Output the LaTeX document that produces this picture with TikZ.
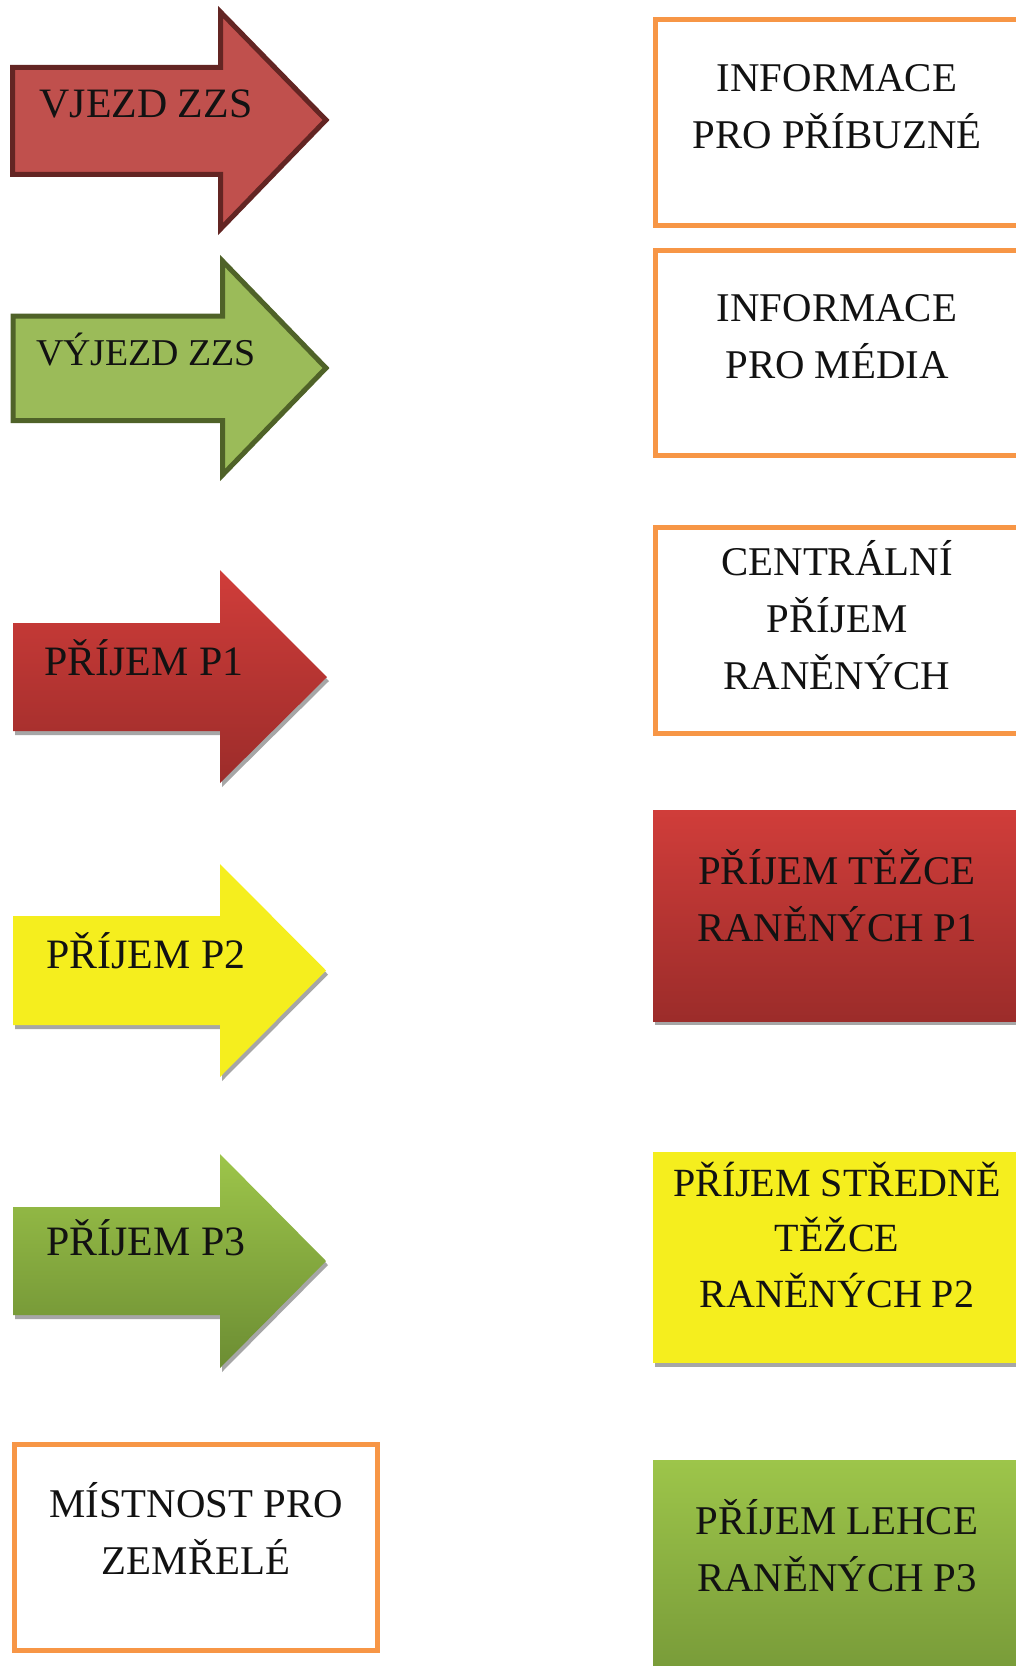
\documentclass[tikz,border=0pt]{standalone}
\usepackage{fontspec}
\setmainfont{Liberation Serif}
\definecolor{boxorange}{HTML}{F79646}
\definecolor{aonefill}{HTML}{C0504D}
\definecolor{aoneline}{HTML}{632523}
\definecolor{atwofill}{HTML}{9BBB59}
\definecolor{atwoline}{HTML}{4F6228}
\definecolor{redtop}{HTML}{D03D3A}
\definecolor{redbot}{HTML}{9C2C2A}
\definecolor{yel}{HTML}{F5EE1E}
\definecolor{gtop}{HTML}{9DC54A}
\definecolor{gbot}{HTML}{6C8D33}
\definecolor{shgray}{HTML}{A6A6A6}
\begin{document}
\begin{tikzpicture}[x=0.75pt,y=-0.75pt,
  lbl/.style={font=\fontsize{30.6}{42.75}\selectfont, align=center, anchor=base, inner sep=0pt, text=black!93},
  obox/.style={draw=boxorange, line width=3.75pt, fill=white},
  shd/.style={fill=shgray, shift={(2,4)}},
  outl/.style={line width=3.75pt, line join=miter}]
\clip (0,0) rectangle (1016,1666);
\fill[white] (0,0) rectangle (1016,1666);

% arrow 1
\draw[outl, draw=aoneline, fill=aonefill] (12.5,67.5) -- (220.5,67.5) -- (220.5,12) -- (326,120) -- (220.5,229) -- (220.5,174.5) -- (12.5,174.5) -- cycle;
\node[lbl, font=\fontsize{31.4}{42.75}\selectfont] (a1) at (146,118) {VJEZD ZZS};

% arrow 2
\draw[outl, draw=atwoline, fill=atwofill] (13,316) -- (222.5,316) -- (222.5,261) -- (326,368) -- (222.5,475) -- (222.5,420.5) -- (13,420.5) -- cycle;
\node[lbl, font=\fontsize{28.4}{42.75}\selectfont] (a2) at (146,365) {VÝJEZD ZZS};

% arrow 3
\fill[shd] (13,623) -- (220,623) -- (220,570) -- (327,677) -- (220,783) -- (220,731) -- (13,731) -- cycle;
\shade[top color=redtop, bottom color=redbot] (13,623) -- (220,623) -- (220,570) -- (327,677) -- (220,783) -- (220,731) -- (13,731) -- cycle;
\node[lbl, font=\fontsize{31.4}{42.75}\selectfont] (a3) at (144,675) {PŘÍJEM P1};

% arrow 4
\fill[shd] (13,916) -- (220,916) -- (220,864) -- (326,970.5) -- (220,1077) -- (220,1025) -- (13,1025) -- cycle;
\fill[yel] (13,916) -- (220,916) -- (220,864) -- (326,970.5) -- (220,1077) -- (220,1025) -- (13,1025) -- cycle;
\node[lbl, font=\fontsize{31.4}{42.75}\selectfont] (a4) at (146,968) {PŘÍJEM P2};

% arrow 5
\fill[shd] (13,1207) -- (220,1207) -- (220,1154) -- (326,1261) -- (220,1368) -- (220,1315) -- (13,1315) -- cycle;
\shade[top color=gtop, bottom color=gbot] (13,1207) -- (220,1207) -- (220,1154) -- (326,1261) -- (220,1368) -- (220,1315) -- (13,1315) -- cycle;
\node[lbl, font=\fontsize{31.4}{42.75}\selectfont] (a5) at (146,1255) {PŘÍJEM P3};

% right boxes
\draw[obox] (655.5,19.5) rectangle (1021,225.5);
\node[lbl] (b1) at (837,148.5) {INFORMACE\\PRO PŘÍBUZNÉ};

\draw[obox] (655.5,250) rectangle (1021,455.5);
\node[lbl] (b2) at (837,378) {INFORMACE\\PRO MÉDIA};

\draw[obox] (655.5,527.5) rectangle (1021,733);
\node[lbl] (b3) at (837,689.5) {CENTRÁLNÍ\\PŘÍJEM\\RANĚNÝCH};

\fill[shd] (653,810) rectangle (1030,1021);
\shade[top color=redtop, bottom color=redbot] (653,810) rectangle (1030,1021);
\node[lbl] (b4) at (837,941.5) {PŘÍJEM TĚŽCE\\RANĚNÝCH P1};

\fill[shd] (653,1152) rectangle (1030,1363);
\fill[yel] (653,1152) rectangle (1030,1363);
\node[lbl, font=\fontsize{30}{41.5}\selectfont] (b5) at (837,1307) {PŘÍJEM STŘEDNĚ\\TĚŽCE\\RANĚNÝCH P2};

\shade[top color=gtop, bottom color=gbot!85!gtop] (653,1460) rectangle (1030,1700);
\node[lbl] (b6) at (837,1591.5) {PŘÍJEM LEHCE\\RANĚNÝCH P3};

% bottom-left box
\draw[obox] (14.5,1444.5) rectangle (377.5,1650.5);
\node[lbl] (m) at (196,1574) {MÍSTNOST PRO\\ZEMŘELÉ};
\end{tikzpicture}
\end{document}
